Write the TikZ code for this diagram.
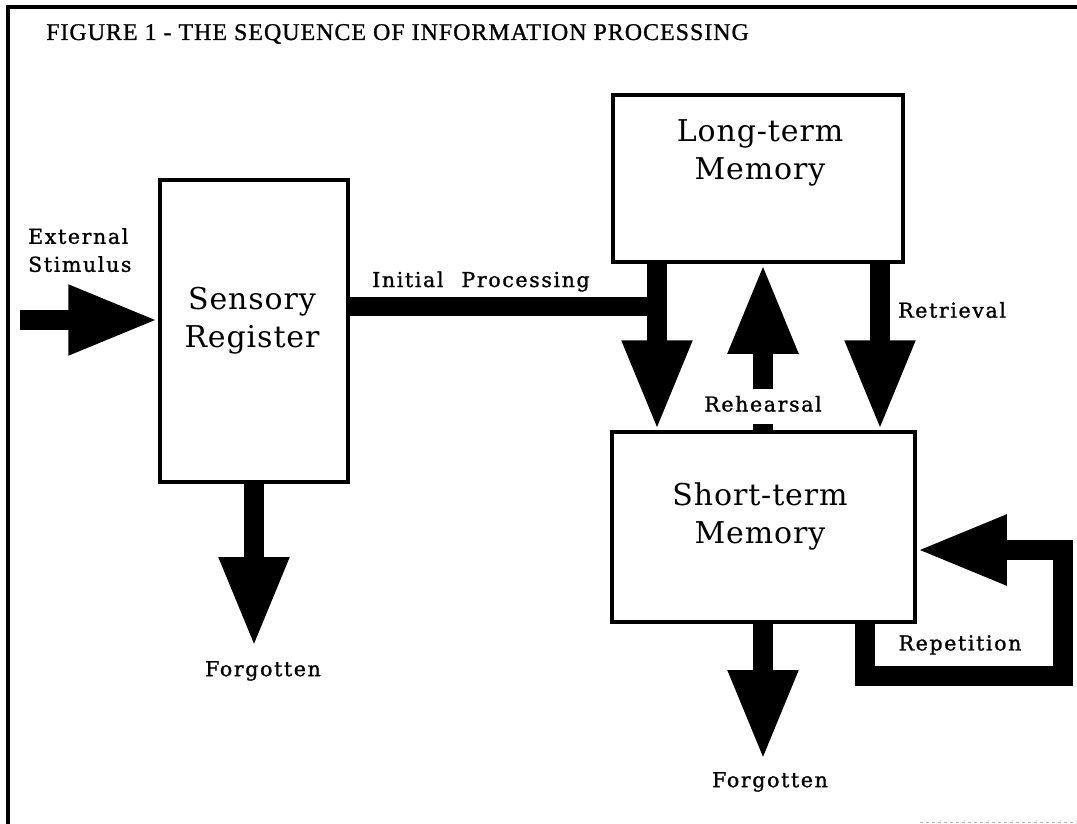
\documentclass[tikz,border=0pt]{standalone}
\usepackage{fontspec}
\setmainfont{DejaVu Serif}
\newfontfamily\titlefont[LetterSpace=4,FakeBold=1]{Liberation Serif}
\newfontfamily\boxfont[LetterSpace=3]{DejaVu Serif}
\newfontfamily\lblfont[LetterSpace=8,FakeBold=1.2]{DejaVu Serif}
\usetikzlibrary{positioning,arrows.meta}

\begin{document}
\begin{tikzpicture}[x=1pt,y=-1pt,
box/.style={draw,line width=3.5pt,inner sep=0pt},
boxtext/.style={align=center,font=\boxfont\fontsize{30}{38}\selectfont},
lbl/.style={inner sep=0pt,font=\lblfont\fontsize{20.5}{28}\selectfont},
fat/.style={line width=20pt,line join=miter,-{Triangle[length=90pt,width=65pt]}},
bar/.style={line width=19pt}]
\useasboundingbox (0,0) rectangle (1077,824);
% frame
\draw[line width=4pt] (8,824) -- (8,7) -- (1077,7);
\draw[gray!60,line width=1pt,dashed] (920,822) -- (1077,822);
\node[anchor=base west,inner sep=0pt,font=\titlefont\fontsize{24}{26}\selectfont] (title) at (46,40) {FIGURE 1 - THE SEQUENCE OF INFORMATION PROCESSING};

% boxes
\node[box,minimum width=188pt,minimum height=302pt] (sr) at (254,331) {};
\node[boxtext] (srtext) at (252,321) {Sensory\\Register};
\node[box,minimum width=290pt,minimum height=167pt] (ltm) at (758,178.5) {};
\node[boxtext] (ltmtext) at (760,153) {Long-term\\Memory};
\node[box,minimum width=303pt,minimum height=190pt] (stm) at (763.5,527) {};
\node[boxtext] (stmtext) at (760,516) {Short-term\\Memory};

% input
\coordinate (ext) at (20,320);
\node[lbl,anchor=north west,align=left] (exttext) at (28,228) {External\\Stimulus};
\draw[fat] (ext) -- (ext -| sr.west);

% initial processing
\coordinate (ipjoin) at (657,306);
\draw[bar] (ipjoin -| sr.east) -- (ipjoin);
\node[lbl,anchor=base west] (iptext) at (372,287) {Initial\hspace{18pt}Processing};
\draw[fat] (ltm.south -| ipjoin) -- (stm.north -| ipjoin);

% rehearsal and retrieval
\coordinate (rehx) at (763,0);
\draw[fat] (stm.north -| rehx) -- (ltm.south -| rehx);
\node[lbl,fill=white,inner ysep=8pt,text height=15pt,text depth=4pt] (rehtext) at (763,406) {Rehearsal};
\coordinate (retx) at (880,0);
\draw[fat] (ltm.south -| retx) -- (stm.north -| retx);
\node[lbl,anchor=west] (rettext) at (898,310) {Retrieval};

% repetition loop
\coordinate (rep1) at (865,676);
\coordinate (rep2) at (1063,550);
\draw[fat] (stm.south -| rep1) -- (rep1) -- (rep1 -| rep2) -- (rep2) -- (rep2 -| stm.east);
\node[lbl] (reptext) at (960,645) {Repetition};

% forgotten
\coordinate (srout) at (254,647);
\draw[fat] (sr.south) -- (srout);
\node[lbl,below=14pt of srout,xshift=9pt] (forg1) {Forgotten};
\coordinate (stmout) at (763,760);
\draw[fat] (stm.south -| stmout) -- (stmout);
\node[lbl,below=12pt of stmout,xshift=7pt] (forg2) {Forgotten};
\end{tikzpicture}
\end{document}
